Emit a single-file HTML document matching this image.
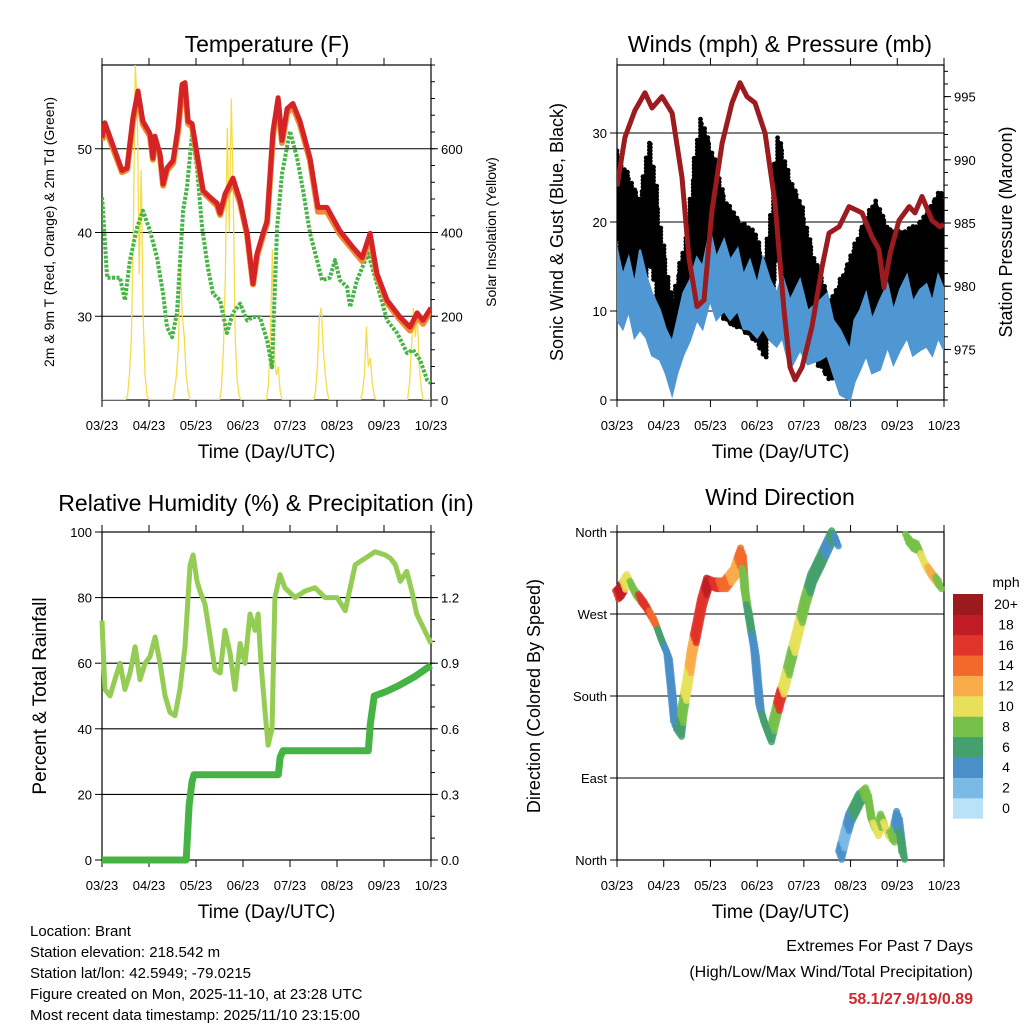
<!DOCTYPE html>
<html><head><meta charset="utf-8"><style>
html,body{margin:0;padding:0;background:#fff;width:1024px;height:1024px;overflow:hidden}
svg{display:block;font-family:"Liberation Sans",sans-serif}
</style></head><body>
<svg id="svg" width="1024" height="1024" viewBox="0 0 1024 1024"></svg>
<script>
// ---------- DATA ----------
const dayTicks = ["03/23","04/23","05/23","06/23","07/23","08/23","09/23","10/23"];
const tempHours = [0,1.5,10.2,12.8,15.8,18.4,20.9,24.5,26,27,29.6,31.2,33.2,36.3,38.8,40.9,42.4,43.9,46,48.5,51.6,55.2,58.7,60.3,62.8,66.9,70.5,74.1,77.1,79.2,82.2,84.3,87.3,89.9,91.9,94.5,97.5,101.1,106.2,110.3,114.9,121.5,128.2,132.8,136.9,140.4,145.6,152.2,157.3,160.9,163.9,168];
const temp2m = [51.3,53.1,47.4,47.7,53.7,56.9,53.3,51.8,48.9,51.5,49.4,45.8,47.7,48.6,52.5,57.7,57.9,53.3,53.0,49.4,45.0,44.2,43.5,42.3,44.6,46.5,43.8,39.9,33.9,37.5,39.9,41.4,52.1,56.1,51.0,54.8,55.4,53.3,48.9,43.0,43.0,40.2,38.2,37.0,39.9,35.1,31.9,29.9,28.7,30.4,29.5,31.0];
const temp9m = [51.0,52.6,47.2,47.5,53.2,56.3,52.9,51.5,48.7,51.0,49.1,45.6,47.4,48.3,52.0,57.2,57.5,53.0,52.6,49.1,44.8,44.0,43.2,42.1,44.2,46.0,43.5,39.7,33.8,37.2,39.6,41.1,51.6,55.6,50.7,54.3,55.0,52.9,48.6,42.5,42.5,39.8,37.9,36.6,39.5,34.8,31.6,29.6,28.3,30.0,29.1,30.7];
const dewHours = [0,0.5,2.6,5.6,9.2,11.7,14.3,17.9,20.9,24.5,28.1,31.2,33.2,35.8,38.3,41.4,43.4,46,48.5,51.1,54.1,56.7,60.3,63.8,66.9,70.5,74.1,77.1,80.7,84.3,86.8,89.4,91.9,96,99.6,102.7,106.2,109.8,112.4,116.4,119,121.5,125.1,126.7,130.2,135.9,140.4,145.6,150.7,155.8,158.8,162.4,166,168];
const dewPoint = [44.2,42.6,34.6,34.6,34.6,31.9,36.7,40.6,42.6,40.2,37.0,32.7,28.7,27.5,30.4,42.6,45.4,51.8,47.7,40.6,35.8,32.7,31.9,28.0,30.4,31.5,29.5,29.9,29.9,27.1,23.9,40.6,47.0,52.1,48.9,45.0,39.9,36.7,34.3,34.6,36.7,34.3,33.5,31.1,34.3,37.5,33.9,29.5,28.0,25.6,26.0,24.8,22.4,22.0];
const solarHours = [0,12,13,14,15,16,17,18,19,20,21,22,23,24,36,37,38,39,40,41,42,43,44,45,60,61,62,63,64,65,66,67,68,69,70,71,84,85,86,87,88,89,90,91,92,108,109,110,111,112,113,114,115,116,132,133,134,135,136,137,138,139,140,156,157,158,159,160,161,162,163,164,168];
const solarVals = [0,0,10,60,150,400,800,700,300,550,200,60,10,0,0,20,60,130,330,200,150,60,20,0,0,30,120,300,650,400,720,500,150,50,10,0,0,40,150,360,100,60,80,20,0,0,20,80,200,220,120,60,20,0,0,20,60,175,80,100,40,10,0,0,40,120,220,150,200,80,30,0,0];
const presHours = [0,4.1,9.2,14.4,18,23.1,28.3,33.4,37,41.1,44.7,48.8,54,59.1,63.2,66.8,70.9,76.1,81.2,85.8,88.9,91.5,95.1,100.2,105.3,108.9,114.1,119.2,125.9,131,134.6,137.2,140.3,144.9,150.1,153.1,156.7,161.9,166,168];
const pressure = [987.9,991.8,993.9,995.3,994.1,995.0,993.7,988.6,982.2,978.4,978.9,986.0,991.3,994.5,996.1,995.0,994.5,992.1,986.6,978.1,973.6,972.6,973.6,976.8,981.5,984.2,984.7,986.3,985.8,983.9,982.9,979.9,982.6,985.2,986.3,985.8,987.1,985.2,984.7,984.9];
const windHours = [0,3,6,9,11.8,15,18,22.1,25,28.3,31,34,37.5,41,44,47.8,51,55,58.1,62,65,68.3,72,75,78.6,82,85,88.9,94,98,104.3,108,111,114.6,119.7,122,124.9,128,131,135.1,139,142,145.4,149,152,155.7,159,162,165,168];
const windHigh = [17,14,16,13,16.9,14,12,10.1,8,6.5,9,12,13.5,16,15,19.1,16,18,15.7,17,14,15.7,13,16,13.5,12,14,11.2,13.5,10,11.2,12,9,7.9,5.6,9,10.1,12,9,11.2,13,10,12.4,14,11,12.4,13,11,14,12.4];
const windLow = [9,8,10,7,7.9,7,5,4.5,3,0.6,3,5,6.7,9,8,11.2,9,10,9,10,8,7.9,7,8,6.7,6,7,3.4,5.6,4,4.5,5,3,0.6,0,2,3.4,5,3,3.4,6,4,5.6,7,5,5.6,6,5,7,5.6];
const gustHours = [0,4.1,11.8,16.9,22.1,28.3,34.9,42.7,48.8,55.5,63.2,70.9,76.1,82.7,88.9,94,101.7,109.5,117.2,124.9,132.6,140.3,148,155.7,166,168];
const gustHigh = [28,26,22.5,30,20,11,18,32,28,22.5,20,19,15,30,24.7,22.5,15.7,11,14.6,19,22.5,19,19,20,23.6,22];
const gustLow = [18,11,11,15.5,9,2,8,14.6,11,9,7.9,6.7,4.5,16,9,6.7,4.5,2,3.4,6.7,9,7.9,7.9,9,12.4,13];
const rhHours = [0,1.5,4.1,6.6,9.2,11.7,14.3,16.9,19.4,22,24.5,27.1,29.6,32.2,34.7,37.3,39.8,42.4,45,46.5,48.5,50,52.6,55.2,57.7,60.3,62.8,65.4,67.9,70.5,73,75.6,78.2,79.7,81.2,83.3,84.8,86.8,88.3,90.9,93.4,98.6,103.7,108.8,113.9,117.5,120.1,124.2,129.3,134.4,139.5,144.6,147.2,149.8,152.3,155.6];
const rhVals = [73,52,50,55,60,52,57,65,55,60,62,68,60,50,45,44,52,65,90,93,85,82,78,68,58,57,70,63,52,66,60,75,70,75,60,45,35,40,80,87,83,80,82,83,80,80,80,76,90,92,94,93,92,90,85,88];
const rhTail = [[158.2,82],[160.7,75],[168,66]];
const precipHours = [0,43,44.5,46,47,90,91,92.5,136,137,139,145,152,160,168];
const precipTotal = [0,0,0.25,0.36,0.39,0.39,0.47,0.5,0.5,0.62,0.75,0.77,0.8,0.84,0.89];
const dirHours = [0,1.5,5.7,9.2,14.4,19.5,23.1,26.2,28.3,29.8,32.4,33.9,36,38.5,41.1,43.7,46.8,50.4,55.5,60.6,64.2,65.8,68.3,70.9,71.9,73.5,76.1,78.6,81.2,83.8,86.3,88.9,92.5,96.6,100.2,104.3,108.4,111,113,114.6,117.2,119.7,122.3,124.9,128.5,131,133.6,136.2,138.7,141.8,144.4,147,149,151.6,154.7,158.3,161.9,166];
const dirVals = [291,294,309,294,280,261,240,225,181,148,140,167,192,228,255,283,305,302,302,316,338,294,261,228,203,167,148,134,156,178,195,217,247,283,309,327,346,357,349,5,27,46,57,68,75,42,31,46,31,24,49,5,353,346,343,324,313,302];
const dirSpeed = [16,18,10,8,16,14,6,3,3,4,6,8,10,12,16,16,18,16,14,12,13,8,6,4,4,4,5,6,8,16,10,8,10,8,6,6,4,6,3,4,2,4,5,5,7,8,9,8,9,8,4,6,8,7,8,10,12,8];
const cbLabels = ["0","2","4","6","8","10","12","14","16","18","20+"];
const cbColors = ["#b8e2f8","#7bb9e6","#4a8fc8","#44a06d","#77c04a","#e8e05a","#f9ab4a","#f26a2b","#e0332a","#c01c25","#9a1a1e"];

// ---------- HELPERS ----------
const NS="http://www.w3.org/2000/svg";
const svg=document.getElementById('svg');
function el(tag,attrs,parent){const e=document.createElementNS(NS,tag);for(const k in attrs)e.setAttribute(k,attrs[k]);(parent||svg).appendChild(e);return e;}
function txt(s,x,y,size,anchor,parent,extra){const t=el('text',Object.assign({x:x,y:y,'font-size':size,'text-anchor':anchor||'middle',fill:'#000'},extra||{}),parent);t.textContent=s;return t;}
function xs(p){return h=>p.x0+h/168*(p.x1-p.x0);}
function ys(p,lo,hi){return v=>p.y1-(v-lo)/(hi-lo)*(p.y1-p.y0);}
function poly(xsArr,ysArr,fx,fy){return xsArr.map((h,i)=>fx(h).toFixed(1)+','+fy(ysArr[i]).toFixed(1)).join(' ');}
function interp(hs,vs,h){for(let i=0;i<hs.length-1;i++){if(h>=hs[i]&&h<=hs[i+1]){const t=(h-hs[i])/(hs[i+1]-hs[i]);return vs[i]+t*(vs[i+1]-vs[i]);}}return vs[vs.length-1];}

function frame(p,name){
  const g=el('g',{});
  
  
  el('rect',{x:p.x0,y:p.y0,width:p.x1-p.x0,height:p.y1-p.y0,fill:'none',stroke:'#000','stroke-width':1.2},g);
  const fx=xs(p);
  dayTicks.forEach((d,i)=>{const x=fx(i*24);
    el('line',{x1:x,y1:p.y1,x2:x,y2:p.y1+7,stroke:'#000'},g);
    el('line',{x1:x,y1:p.y0,x2:x,y2:p.y0-7,stroke:'#000'},g);
    const t=txt(d,x,p.y1+30,13,'middle',g);
    
    
  });
  const xt=txt('Time (Day/UTC)',(p.x0+p.x1)/2,p.y1+58,19,'middle',g);
  
  
  return g;
}
function leftAxis(p,g,vals,lo,hi,fmt,grid,minorStep){
  const fy=ys(p,lo,hi);
  vals.forEach(v=>{const y=fy(v);
    el('line',{x1:p.x0-7,y1:y,x2:p.x0,y2:y,stroke:'#000'},g);
    if(grid&&y>p.y0+1&&y<p.y1-1)el('line',{x1:p.x0,y1:y,x2:p.x1,y2:y,stroke:'#000','stroke-width':1.1},g);
    const t=txt(fmt(v),p.x0-10,y+5,13,'end',g);
    
    
  });
  if(minorStep){for(let v=Math.ceil(lo/minorStep)*minorStep;v<=hi;v+=minorStep){const y=fy(v);el('line',{x1:p.x0-4,y1:y,x2:p.x0,y2:y,stroke:'#000'},g);}}
}
function rightAxis(p,g,vals,lo,hi,fmt,minorStep){
  const fy=ys(p,lo,hi);
  vals.forEach(v=>{const y=fy(v);
    el('line',{x1:p.x1,y1:y,x2:p.x1+7,y2:y,stroke:'#000'},g);
    const t=txt(fmt(v),p.x1+10,y+5,13,'start',g);
    
    
  });
  if(minorStep){for(let v=Math.ceil(lo/minorStep-1e-9)*minorStep;v<=hi+1e-9;v+=minorStep){const y=fy(v);el('line',{x1:p.x1,y1:y,x2:p.x1+4,y2:y,stroke:'#000'},g);}}
}
function vtitle(s,x,y,size,name){const t=txt(s,x,y,size,'middle',svg,{transform:'rotate(-90 '+x+' '+y+')'});
  
  }
function title(s,x,y,name){const t=txt(s,x,y,23,'middle');
  
  }

// ---------- PANEL 1 ----------
const P1={x0:102,x1:431,y0:65,y1:400};
title('Temperature (F)',267,52,'temperature-title');
const g1=frame(P1,'temperature');
leftAxis(P1,g1,[30,40,50],20,60,v=>v,true,null);
rightAxis(P1,g1,[0,200,400,600],0,800,v=>v,40);
vtitle('2m & 9m T (Red, Orange) & 2m Td (Green)',54,232,14,'temperature-y-title');
vtitle('Solar Insolation (Yellow)',496,232,14,'solar-y-title');
{
  const fx=xs(P1),fy=ys(P1,20,60),fs=ys(P1,0,800);
  const clip=el('clipPath',{id:'c1'});el('rect',{x:P1.x0,y:P1.y0,width:P1.x1-P1.x0,height:P1.y1-P1.y0},clip);
  const g=el('g',{'clip-path':'url(#c1)'});
  const sol=el('polyline',{points:poly(solarHours,solarVals,fx,fs),fill:'none',stroke:'#f7dc4a','stroke-width':1.3},g);
  
  
  const dw=el('polyline',{points:poly(dewHours,dewPoint,fx,fy),fill:'none',stroke:'#46b446','stroke-width':4,'stroke-dasharray':'3 1.5','stroke-linejoin':'round'},g);
  
  
  const t9=el('polyline',{points:poly(tempHours,temp9m,fx,fy),fill:'none',stroke:'#f08a30','stroke-width':6,'stroke-linejoin':'round'},g);
  
  
  const t2=el('polyline',{points:poly(tempHours,temp2m,fx,fy),fill:'none',stroke:'#d42427','stroke-width':5,'stroke-linejoin':'round'},g);
  
  
}

// ---------- PANEL 2 ----------
const P2={x0:617,x1:944,y0:65,y1:400};
title('Winds (mph) & Pressure (mb)',780,52,'winds-title');
const g2=frame(P2,'winds');
leftAxis(P2,g2,[0,10,20,30],0,37.64,v=>v,true,null);
rightAxis(P2,g2,[975,980,985,990,995],971,997.5,v=>v,1);
vtitle('Sonic Wind & Gust (Blue, Black)',563,232,18,'wind-y-title');
vtitle('Station Pressure (Maroon)',1012,232,18,'pressure-y-title');
{
  const fx=xs(P2),fy=ys(P2,0,37.64),fp=ys(P2,971,997.5);
  const clip=el('clipPath',{id:'c2'});el('rect',{x:P2.x0,y:P2.y0-3,width:P2.x1-P2.x0,height:P2.y1-P2.y0+6},clip);
  const g=el('g',{'clip-path':'url(#c2)'});
  const gg=el('g',{},g);
  
  
  let k=0;
  for(let h=0;h<=168;h+=1.25){const hi=interp(gustHours,gustHigh,h),lo=interp(gustHours,gustLow,h);
    const y0=fy(hi),y1=fy(lo);const off=[0,1.7,0.8,2.5][k++%4];
    for(let y=y0+off;y<=y1;y+=3.4){el('circle',{cx:(fx(h)+((k*7)%3-1)*0.8).toFixed(1),cy:y.toFixed(1),r:2.4,fill:'#000'},gg);}
  }
  const band=windHours.map((h,i)=>fx(h).toFixed(1)+','+fy(windHigh[i]).toFixed(1)).join(' ')+' '+windHours.slice().reverse().map((h,i)=>fx(h).toFixed(1)+','+fy(windLow[windHours.length-1-i]).toFixed(1)).join(' ');
  const wb=el('polygon',{points:band,fill:'#4f97d2',stroke:'#4f97d2','stroke-width':2},g);
  
  
  const pl=el('polyline',{points:poly(presHours,pressure,fx,fp),fill:'none',stroke:'#9b1b1f','stroke-width':5,'stroke-linejoin':'round'},g);
  
  
}

// ---------- PANEL 3 ----------
const P3={x0:102,x1:431,y0:532,y1:860};
title('Relative Humidity (%) & Precipitation (in)',266,511,'rh-precip-title');
const g3=frame(P3,'rh');
leftAxis(P3,g3,[0,20,40,60,80,100],0,100,v=>v,true,null);
rightAxis(P3,g3,[0,0.3,0.6,0.9,1.2],0,1.5,v=>v.toFixed(1),0.1);
vtitle('Percent & Total Rainfall',46,696,19,'rh-y-title');
{
  const fx=xs(P3),fy=ys(P3,0,100),fp=ys(P3,0,1.5);
  const allH=rhHours.concat(rhTail.map(d=>d[0])),allV=rhVals.concat(rhTail.map(d=>d[1]));
  const rl=el('polyline',{points:poly(allH,allV,fx,fy),fill:'none',stroke:'#94cc54','stroke-width':5,'stroke-linejoin':'round'});
  
  
  const pr=el('polyline',{points:poly(precipHours,precipTotal,fx,fp),fill:'none',stroke:'#45b445','stroke-width':7,'stroke-linejoin':'round'});
  
  
}

// ---------- PANEL 4 ----------
const P4={x0:617,x1:944,y0:532,y1:860};
title('Wind Direction',780,505,'wind-direction-title');
const g4=frame(P4,'wind-direction');
leftAxis(P4,g4,[0,90,180,270,360],0,360,v=>({0:'North',90:'East',180:'South',270:'West',360:'North'})[v],true,null);
vtitle('Direction (Colored By Speed)',540,696,18,'wind-direction-y-title');
{
  const fx=xs(P4),fy=ys(P4,0,360);
  const g=el('g',{});
  
  
  const col=s=>cbColors[Math.max(0,Math.min(10,Math.round(s/2)))];
  function dot(x,y,c){[-4,0,4].forEach((d,j)=>el('circle',{cx:(x+(j-1)*1.5).toFixed(1),cy:(y+d).toFixed(1),r:3.5,fill:c,'fill-opacity':0.85},g));}
  for(let i=0;i<dirHours.length;i++){
    dot(fx(dirHours[i]),fy(dirVals[i]),col(dirSpeed[i]));
    if(i<dirHours.length-1&&Math.abs(dirVals[i+1]-dirVals[i])<100){
      const n=Math.max(2,Math.ceil(Math.hypot(fx(dirHours[i+1])-fx(dirHours[i]),fy(dirVals[i+1])-fy(dirVals[i]))/3));
      for(let j=1;j<n;j++){const t=j/n;
        dot(fx(dirHours[i]+t*(dirHours[i+1]-dirHours[i])),fy(dirVals[i]+t*(dirVals[i+1]-dirVals[i])),col(t<0.5?dirSpeed[i]:dirSpeed[i+1]));}
    }
  }
  const cb=el('g',{});
  
  
  const top=594,bh=20.4;
  cbColors.forEach((c,i)=>{const y=top+(10-i)*bh;
    el('rect',{x:953,y:y,width:30,height:bh+0.3,fill:c},cb);
    const t=txt(cbLabels[i],1006,y+15,14,'middle',cb);
    
    
  });
  const mt=txt('mph',1006,587,14,'middle',cb);
  
  
}

// ---------- FOOTER ----------
const info=["Location: Brant","Station elevation: 218.542 m","Station lat/lon: 42.5949; -79.0215","Figure created on Mon, 2025-11-10, at 23:28 UTC","Most recent data timestamp: 2025/11/10 23:15:00"];
info.forEach((s,i)=>{const t=txt(s,30,936+i*21,15,'start');
  
  });
const e1=txt('Extremes For Past 7 Days',973,951,16,'end');


const e2=txt('(High/Low/Max Wind/Total Precipitation)',973,977,16,'end');


const e3=txt('58.1/27.9/19/0.89',973,1004,16,'end',svg,{fill:'#d0282e','font-weight':'bold'});


</script>
</body></html>
